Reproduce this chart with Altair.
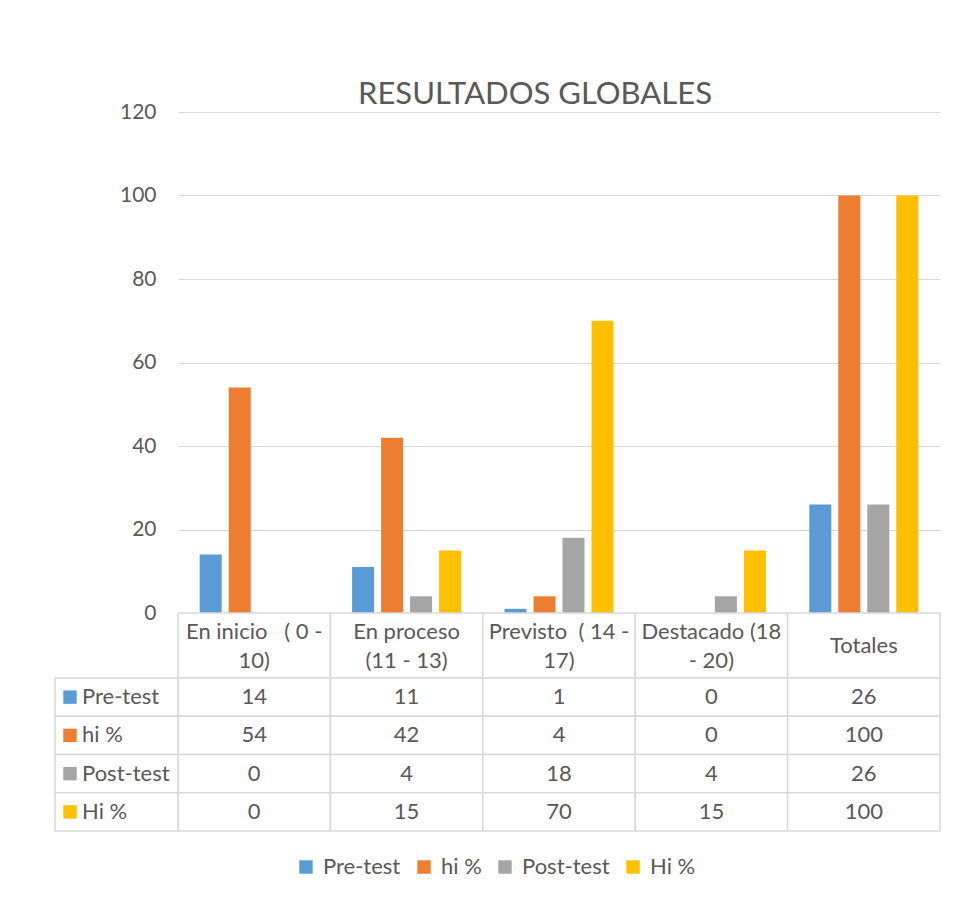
import altair as alt
import pandas as pd

categories = ["En inicio ( 0 - 10)", "En proceso (11 - 13)", "Previsto ( 14 - 17)",
              "Destacado (18 - 20)", "Totales"]
header_labels = ["En inicio\u00a0\u00a0\u00a0( 0 -\n10)", "En proceso\n(11 - 13)",
                 "Previsto\u00a0\u00a0( 14 -\n17)", "Destacado (18\n- 20)", "Totales"]
series = ["Pre-test", "hi %", "Post-test", "Hi %"]
pre_test = [14, 11, 1, 0, 26]
hi_pct_low = [54, 42, 4, 0, 100]
post_test = [0, 4, 18, 4, 26]
hi_pct_up = [0, 15, 70, 15, 100]
colors = ["#5B9BD5", "#ED7D31", "#A5A5A5", "#FFC000"]
y_ticks = [0, 20, 40, 60, 80, 100, 120]

FONT = "Lato"
TXT = "#595959"
LINE = "#D9D9D9"
FS = 22

rows = []
for s, vals in zip(series, [pre_test, hi_pct_low, post_test, hi_pct_up]):
    for c, v in zip(categories, vals):
        rows.append({"category": c, "series": s, "value": v})
df = pd.DataFrame(rows)

x_scale = alt.Scale(domain=categories, paddingInner=0, paddingOuter=0)
color_scale = alt.Scale(domain=series, range=colors)
row_scale = alt.Scale(domain=series, paddingInner=0, paddingOuter=0)

bars = alt.Chart(df).mark_bar().encode(
    x=alt.X("category:N", scale=x_scale, axis=None),
    xOffset=alt.XOffset("series:N", scale=alt.Scale(domain=series, paddingInner=0.241, paddingOuter=0.748)),
    y=alt.Y("value:Q", scale=alt.Scale(domain=[0, 120]),
            axis=alt.Axis(values=y_ticks, grid=True, gridColor=LINE, gridWidth=1.2, domain=False,
                          ticks=False, labelPadding=22, labelFontSize=21, labelColor=TXT,
                          labelFont=FONT, title=None)),
    color=alt.Color("series:N", scale=color_scale,
                    legend=alt.Legend(title=None, orient="none", direction="horizontal",
                                      legendX=117, legendY=744, symbolType="square",
                                      symbolSize=180, symbolStrokeWidth=0, labelFontSize=FS,
                                      labelColor=TXT, labelFont=FONT, columnPadding=12,
                                      symbolOffset=0, labelOffset=6)),
).properties(
    width=762, height=501,
    title=alt.TitleParams("RESULTADOS GLOBALES", fontSize=31, fontWeight="normal", color=TXT,
                          font=FONT, anchor="middle", dx=-24, offset=-10),
)

hdr_df = pd.DataFrame({"category": categories, "label": header_labels})
hdr_base = alt.Chart(hdr_df).encode(x=alt.X("category:N", scale=x_scale, axis=None))
hdr_cells = hdr_base.mark_rect(fill="white", stroke=LINE, strokeWidth=1.5).encode(
    y=alt.value(0), y2=alt.value(65))
hdr_text2 = hdr_base.transform_filter("indexof(datum.label, '\\n') >= 0").mark_text(
    lineBreak="\n", lineHeight=29, fontSize=FS, color=TXT, baseline="middle", font=FONT,
    dy=-14).encode(y=alt.value(32.5), text="label:N")
hdr_text1 = hdr_base.transform_filter("indexof(datum.label, '\\n') < 0").mark_text(
    fontSize=FS, color=TXT, baseline="middle", font=FONT).encode(
    y=alt.value(32.5), text="label:N")
header = alt.layer(hdr_cells, hdr_text2, hdr_text1).properties(width=762, height=65)

lbl_df = pd.DataFrame({"series": series})
yrow = alt.Y("series:N", scale=row_scale, axis=None)
cells = alt.Chart(df).mark_rect(fill="white", stroke=LINE, strokeWidth=1.5).encode(
    x=alt.X("category:N", scale=x_scale, axis=None), y=yrow)
vals = alt.Chart(df).mark_text(fontSize=FS, color=TXT, font=FONT, baseline="middle").encode(
    x=alt.X("category:N", scale=x_scale, axis=None), y=yrow, text="value:Q")
lbl_cells = alt.Chart(lbl_df).mark_rect(fill="white", stroke=LINE, strokeWidth=1.5).encode(
    x=alt.value(-123), x2=alt.value(0), y=yrow)
lbl_sym = alt.Chart(lbl_df).mark_square(size=180, opacity=1).encode(
    x=alt.value(-108), y=yrow, color=alt.Color("series:N", scale=color_scale))
lbl_text = alt.Chart(lbl_df).mark_text(fontSize=FS, color=TXT, font=FONT, align="left",
                                       baseline="middle").encode(
    x=alt.value(-96), y=yrow, text="series:N")
table = alt.layer(cells, vals, lbl_cells, lbl_sym, lbl_text).properties(width=762, height=153)

chart = alt.vconcat(bars, header, table, spacing=0, bounds="flush").properties(
    padding={"left": 46, "top": 71, "right": 5, "bottom": 5}
).configure(font=FONT).configure_view(stroke=None)

chart.save("out.html", embed_options={"renderer": "svg", "actions": False})
